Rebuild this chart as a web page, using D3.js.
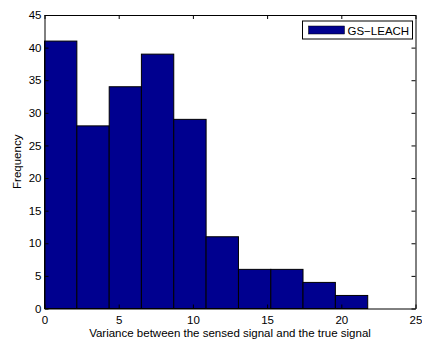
<!DOCTYPE html>
<html>
<head>
<meta charset="utf-8">
<script src="https://cdn.jsdelivr.net/npm/d3@7"></script>
<style>
  body { margin: 0; background: #fff; }
  svg { display: block; font-family: "Liberation Sans", Arial, Helvetica, sans-serif; }
</style>
</head>
<body>
<svg id="chart" width="422" height="345"></svg>
<script>
// histogram bin edges and counts per bin
const binEdges = [0, 2.18, 4.36, 6.53, 8.71, 10.89, 13.07, 15.25, 17.42, 19.6, 21.78];
const counts = [41, 28, 34, 39, 29, 11, 6, 6, 4, 2];
const xTicks = [0, 5, 10, 15, 20, 25];
const yTicks = [0, 5, 10, 15, 20, 25, 30, 35, 40, 45];
const seriesName = 'GS\u2212LEACH';

function drawHistogram() {
    const margin = {left: 44.5, right: 6.5, top: 15, bottom: 36.5},
          width = 422 - margin.left - margin.right,
          height = 345 - margin.top - margin.bottom,
          fontSize = '11.5px';

    const svg = d3.select('#chart');
    const g = svg.append('g')
                .attr('transform', `translate(${margin.left},${margin.top})`);

    let x = d3.scaleLinear().domain([0, 25]).range([0, width]);
    let y = d3.scaleLinear().domain([0, 45]).range([height, 0]);

    let bins = counts.map((c, i) => ({x0: binEdges[i], x1: binEdges[i + 1], count: c}));

    g.selectAll('.bar')
        .data(bins)
      .enter()
      .append('rect')
        .classed('bar', true)
        .attr('x', d => x(d.x0))
        .attr('y', d => y(d.count))
        .attr('width', d => x(d.x1) - x(d.x0))
        .attr('height', d => y(0) - y(d.count))
        .attr('fill', '#00008f')
        .style('stroke', 'black')
        .style('stroke-width', 1);

    // axes, MATLAB style: ticks inside on all four sides
    const tickLen = 4;
    const fmt = d3.format('d');
    let axes = [
        {gen: d3.axisBottom(x), tr: `translate(0,${height})`, vals: xTicks, labels: true, pad: 7.5},
        {gen: d3.axisTop(x), tr: 'translate(0,0)', vals: xTicks, labels: false, pad: 3},
        {gen: d3.axisLeft(y), tr: 'translate(0,0)', vals: yTicks, labels: true, pad: 3},
        {gen: d3.axisRight(y), tr: `translate(${width},0)`, vals: yTicks, labels: false, pad: 3}
    ];
    axes.forEach(a => {
        let ag = g.append('g')
                .attr('transform', a.tr)
                .call(a.gen.tickValues(a.vals)
                        .tickSizeInner(-tickLen)
                        .tickSizeOuter(0)
                        .tickPadding(a.pad)
                        .tickFormat(a.labels ? fmt : ''));
        ag.select('.domain').attr('stroke', 'black').attr('stroke-width', 1);
        ag.selectAll('.tick line').attr('stroke', 'black');
        ag.selectAll('.tick text')
            .attr('fill', 'black')
            .style('font-size', fontSize)
            .style('font-family', 'inherit');
    });

    g.append('text')
        .attr('x', width / 2)
        .attr('y', height + 28.5)
        .attr('text-anchor', 'middle')
        .style('font-size', fontSize)
        .text('Variance between the sensed signal and the true signal');

    g.append('text')
        .attr('transform', `translate(${-24},${height / 2}) rotate(-90)`)
        .attr('text-anchor', 'middle')
        .style('font-size', fontSize)
        .text('Frequency');

    // legend
    let legend = g.append('g')
                .attr('transform', `translate(${302.5 - margin.left},${21 - margin.top})`);
    legend.append('rect')
        .attr('width', 110)
        .attr('height', 18)
        .attr('fill', 'white')
        .attr('stroke', 'black');
    legend.append('rect')
        .attr('x', 6)
        .attr('y', 5)
        .attr('width', 36)
        .attr('height', 8)
        .attr('fill', '#00008f')
        .attr('stroke', 'black')
        .attr('stroke-width', 0.5);
    legend.append('text')
        .attr('x', 45)
        .attr('y', 13.5)
        .style('font-size', fontSize)
        .text(seriesName);
}

drawHistogram();
</script>
</body>
</html>
